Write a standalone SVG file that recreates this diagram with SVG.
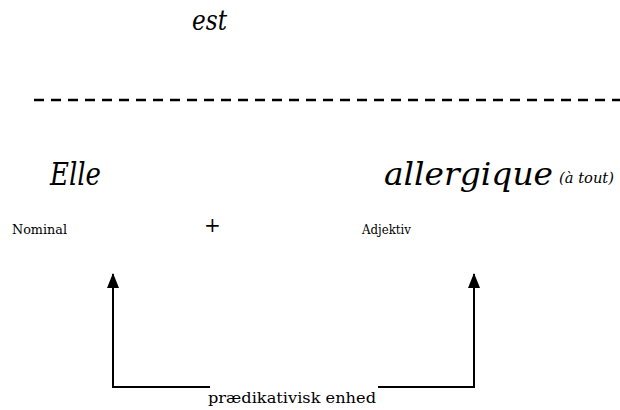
<svg xmlns="http://www.w3.org/2000/svg" width="620" height="410" viewBox="0 0 620 410">
<style>
.ln{stroke:#000;stroke-width:2;fill:none}
text{font-family:"DejaVu Serif","Liberation Serif","Times New Roman",serif;fill:#000}
.it{font-style:italic}
</style>
<defs>
<marker id="ah" markerWidth="15" markerHeight="12" refX="14" refY="6" orient="auto" markerUnits="userSpaceOnUse" viewBox="0 0 15 12">
<path d="M0,0 L15,6 L0,12 Z" fill="#000"/>
</marker>
</defs>
<rect width="620" height="410" fill="#fff"/>
<g id="verb"><text class="it" x="192" y="30" font-size="27" textLength="35" lengthAdjust="spacingAndGlyphs">est</text></g>
<g id="divider"><line x1="34" y1="100" x2="620" y2="100" stroke="#000" stroke-width="2.5" stroke-dasharray="10,7"/></g>
<g id="subject"><text class="it" x="50" y="185" font-size="31" textLength="51" lengthAdjust="spacingAndGlyphs">Elle</text><text x="12" y="234" font-size="13" textLength="55" lengthAdjust="spacingAndGlyphs">Nominal</text></g>
<g id="plus"><text x="204" y="232" font-size="20" font-weight="300">+</text></g>
<g id="predicate"><text class="it" x="384" y="185" font-size="31" textLength="169" lengthAdjust="spacingAndGlyphs">allergique</text><text class="it" x="559" y="183" font-size="15" textLength="55" lengthAdjust="spacingAndGlyphs">(à tout)</text><text x="362" y="234" font-size="13" textLength="49" lengthAdjust="spacingAndGlyphs">Adjektiv</text></g>
<g id="connectors">
<path class="ln" d="M210,387 H113 V274" marker-end="url(#ah)"/>
<path class="ln" d="M378,387 H474 V274" marker-end="url(#ah)"/>
</g>
<g id="label"><text x="208" y="403" font-size="15" textLength="168" lengthAdjust="spacingAndGlyphs">prædikativisk enhed</text></g>
</svg>
